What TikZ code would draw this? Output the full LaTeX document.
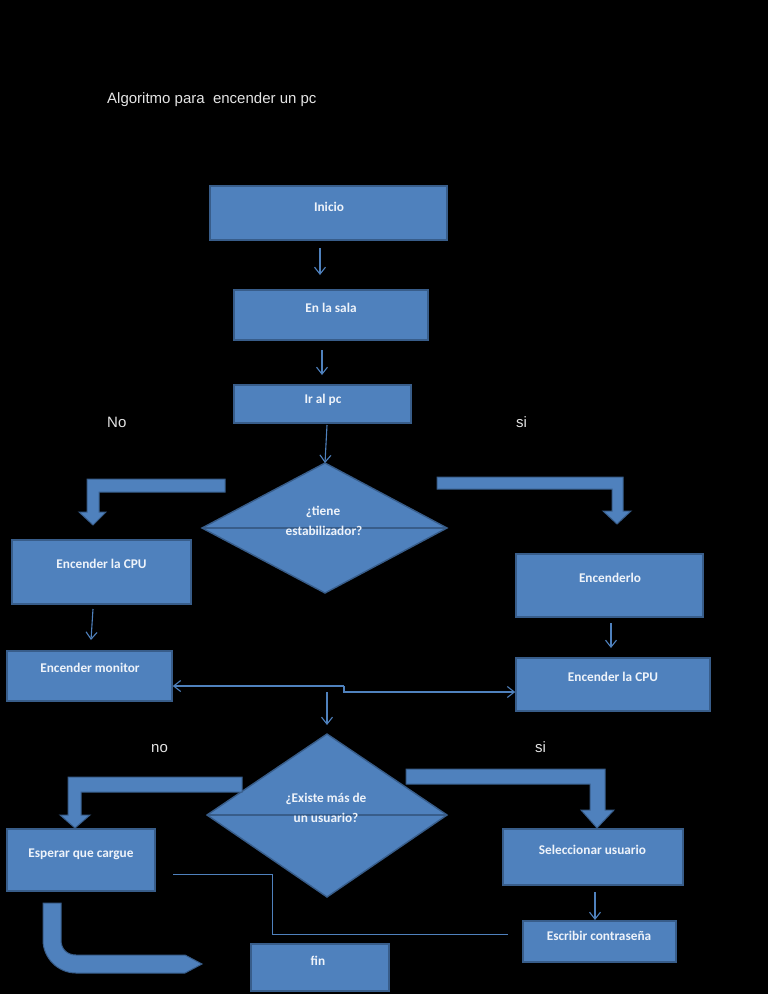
\documentclass[tikz,border=0pt]{standalone}
\usepackage{fontspec}
\setmainfont{Liberation Sans}
\newfontfamily\carl{Carlito}
\usetikzlibrary{arrows.meta}
\definecolor{bfill}{HTML}{4F81BD}
\definecolor{bline}{HTML}{385D8A}
\definecolor{btext}{HTML}{EEF3FA}
\definecolor{ttext}{HTML}{E4E4E4}
\begin{document}
\begin{tikzpicture}[x=1pt,y=-1pt,
  box/.style={draw=bline,fill=bfill,line width=1.6pt,inner sep=0pt},
  txt/.style={font=\carl\bfseries\fontsize{13.3}{15}\selectfont,text=btext,anchor=base,inner sep=0pt},
  ttl/.style={font=\fontsize{15}{17}\selectfont,text=ttext,anchor=base west,inner sep=0pt},
  arr/.style={draw=bfill,line width=1.1pt,-{Straight Barb[length=7pt,width=11pt]}},
  plain/.style={draw=bfill,line width=1pt},
  blk/.style={draw=bline,fill=bfill,line width=1pt,line join=miter},
  dia/.style={draw=bline,fill=bfill,line width=1.4pt,line join=miter},
  mid/.style={draw=bline,line width=1.6pt}]
\useasboundingbox (0,0) rectangle (768,994);
\fill[black] (0,0) rectangle (768,994);

% title and labels
\node[ttl] (title) at (107,103) {Algoritmo para\ \ encender un pc};
\node[ttl] (no1) at (107,427) {No};
\node[ttl] (si1) at (516,427) {si};
\node[ttl] (no2) at (151,752) {no};
\node[ttl] (si2) at (535,752) {si};

% boxes
\node[box,minimum width=237,minimum height=54] (inicio) at (328.5,213) {};
\node[txt] (tinicio) at (329,211) {Inicio};
\node[box,minimum width=194,minimum height=50] (sala) at (331,315) {};
\node[txt] (tsala) at (331,312) {En la sala};
\node[box,minimum width=177,minimum height=38] (irpc) at (322.5,404) {};
\node[txt] (tirpc) at (323,403) {Ir al pc};

% diamond 1
\draw[dia] (202,528) -- (325,463) -- (447,528) -- (325,593) -- cycle;
\coordinate (d1w) at (202,528);
\coordinate (d1e) at (447,528);
\coordinate (d1n) at (325,463);
\draw[mid] (d1w) -- (d1e);
\node[txt] (td1a) at (323,515) {¿tiene};
\node[txt] (td1b) at (324,535) {estabilizador?};

% block arrows level 1
\draw[blk] (225,479) -- (87,479) -- (87,512) -- (79,512) -- (93,525) -- (106,512) -- (99,512) -- (99,492) -- (225,492) -- cycle;
\draw[blk] (437,477) -- (623,477) -- (623,511) -- (631,511) -- (617,524) -- (603,511) -- (612,511) -- (612,489) -- (437,489) -- cycle;

\node[box,minimum width=179,minimum height=64] (cpuL) at (101.5,572) {};
\node[txt] (tcpuL) at (101.5,568) {Encender la CPU};
\node[box,minimum width=187,minimum height=63] (enc) at (609.5,585.5) {};
\node[txt] (tenc) at (610,582) {Encenderlo};
\node[box,minimum width=165,minimum height=50] (mon) at (89.5,676) {};
\node[txt] (tmon) at (90,672) {Encender monitor};
\node[box,minimum width=194,minimum height=53] (cpuR) at (613,684.5) {};
\node[txt] (tcpuR) at (613,681) {Encender la CPU};

% thin arrows top
\coordinate (a1s) at (320,248); \coordinate (a1e) at (320,275);
\draw[arr] (a1s) -- (a1e);
\coordinate (a2s) at (322,350); \coordinate (a2e) at (322,375);
\draw[arr] (a2s) -- (a2e);
\coordinate (a3s) at (327,425);
\draw[arr] (a3s) -- (d1n);
\coordinate (a4s) at (93,609); \coordinate (a4e) at (91,640);
\draw[arr] (a4s) -- (a4e);
\coordinate (a5s) at (611,623); \coordinate (a5e) at (611,648);
\draw[arr] (a5s) -- (a5e);

% split connector
\coordinate (j) at (344,686);
\draw[arr] (j) -- (mon.east |- j);
\draw[arr] (j) -- (344,692) -- (cpuR.west |- 0,692);
\coordinate (a6s) at (327,692); \coordinate (a6e) at (327,725);
\draw[arr] (a6s) -- (a6e);

% diamond 2
\draw[dia] (207,815) -- (327,734) -- (447,815) -- (327,897) -- cycle;
\coordinate (d2w) at (207,815);
\coordinate (d2e) at (447,815);
\draw[mid] (d2w) -- (d2e);
\node[txt] (td2a) at (326,802) {¿Existe más de};
\node[txt] (td2b) at (326,822) {un usuario?};

% block arrows level 2
\draw[blk] (242,777) -- (68,777) -- (68,815) -- (60,815) -- (75,828) -- (90,815) -- (81,815) -- (81,792) -- (242,792) -- cycle;
\draw[blk] (406,769) -- (605,769) -- (605,810) -- (614,810) -- (597,828) -- (581,810) -- (590,810) -- (590,784) -- (406,784) -- cycle;

\node[box,minimum width=148,minimum height=62] (esp) at (81,860) {};
\node[txt] (tesp) at (81,857) {Esperar que cargue};
\node[box,minimum width=180,minimum height=56] (sel) at (593,857) {};
\node[txt] (tsel) at (592.5,854) {Seleccionar usuario};
\node[box,minimum width=153,minimum height=41] (pwd) at (599.5,941.5) {};
\node[txt] (tpwd) at (599,940) {Escribir contraseña};
\node[box,minimum width=138,minimum height=47] (fin) at (320,967.5) {};
\node[txt] (tfin) at (318,965) {fin};

\coordinate (a7s) at (595,892); \coordinate (a7e) at (595,920);
\draw[arr] (a7s) -- (a7e);

% plain connector
\coordinate (p1) at (173,874); \coordinate (p4) at (508,934);
\draw[plain] (p1) -- (272,874) -- (272,934) -- (p4);

% U-shaped block arrow
\draw[blk] (43,903) -- (43,940) .. controls (43,958) and (58,973) .. (76,973) -- (185,973) -- (202,964) -- (185,955) -- (76,955) .. controls (67,955) and (61,949) .. (61,940) -- (61,903) -- cycle;
\end{tikzpicture}
\end{document}
